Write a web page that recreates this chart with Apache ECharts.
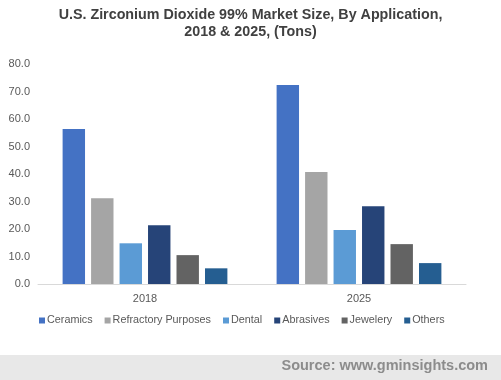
<!DOCTYPE html>
<html><head><meta charset="utf-8">
<script src="https://cdn.jsdelivr.net/npm/echarts@6/dist/echarts.min.js"></script>
<style>html,body{margin:0;padding:0;background:#fff}#c{width:501px;height:380px}</style>
</head><body><div id="c"></div>
<script>
const categories = ['2018', '2025'];
const seriesNames = ['Ceramics', 'Refractory Purposes', 'Dental', 'Abrasives', 'Jewelery', 'Others'];
const ceramics = [56.4, 72.4];
const refractory = [31.2, 40.7];
const dental = [14.8, 19.6];
const abrasives = [21.4, 28.3];
const jewelery = [10.5, 14.5];
const others = [5.7, 7.6];
const yTicks = [0, 10, 20, 30, 40, 50, 60, 70, 80];
const colors = ['#4472C4', '#A5A5A5', '#5B9BD5', '#264478', '#636363', '#255E91'];
const values = [ceramics, refractory, dental, abrasives, jewelery, others];

const chart = echarts.init(document.getElementById('c'), null, {renderer: 'canvas'});
const font = '"Liberation Sans", Arial, sans-serif';
chart.setOption({
  animation: false,
  title: {
    text: 'U.S. Zirconium Dioxide 99% Market Size, By Application,\n2018 & 2025, (Tons)',
    left: 'center', top: 2,
    textStyle: {fontFamily: font, fontSize: 14.3, fontWeight: 'bold', color: '#404040', lineHeight: 17}
  },
  graphic: [
    {type: 'rect', left: 0, top: 355, shape: {width: 501, height: 25}, style: {fill: '#E8E8E8'}, z: -1},
    {type: 'text', right: 13, top: 358, style: {text: 'Source: www.gminsights.com', font: 'bold 14.5px "Liberation Sans", Arial, sans-serif', fill: '#8C8C8C'}}
  ],
  legend: {
    data: seriesNames, bottom: 49, left: 34,
    itemWidth: 6, itemHeight: 6, itemGap: 12, icon: 'rect',
    textStyle: {fontFamily: font, fontSize: 10.8, color: '#595959', padding: [0, 0, 0, -3]}
  },
  grid: {left: 38, right: 35, top: 64, bottom: 96, containLabel: false},
  xAxis: {
    type: 'category', data: categories,
    axisLine: {lineStyle: {color: '#D9D9D9'}},
    axisTick: {show: false},
    axisLabel: {fontFamily: font, fontSize: 11, color: '#595959', margin: 9}
  },
  yAxis: {
    type: 'value', min: yTicks[0], max: yTicks[yTicks.length - 1], interval: 10,
    splitLine: {show: false}, axisLine: {show: false}, axisTick: {show: false},
    axisLabel: {fontFamily: font, fontSize: 11, color: '#595959', margin: 8, formatter: v => v.toFixed(1)}
  },
  series: seriesNames.map((n, i) => ({
    name: n, type: 'bar', data: values[i], itemStyle: {color: colors[i]},
    barGap: '27%', barCategoryGap: '23%'
  }))
});
</script></body></html>
